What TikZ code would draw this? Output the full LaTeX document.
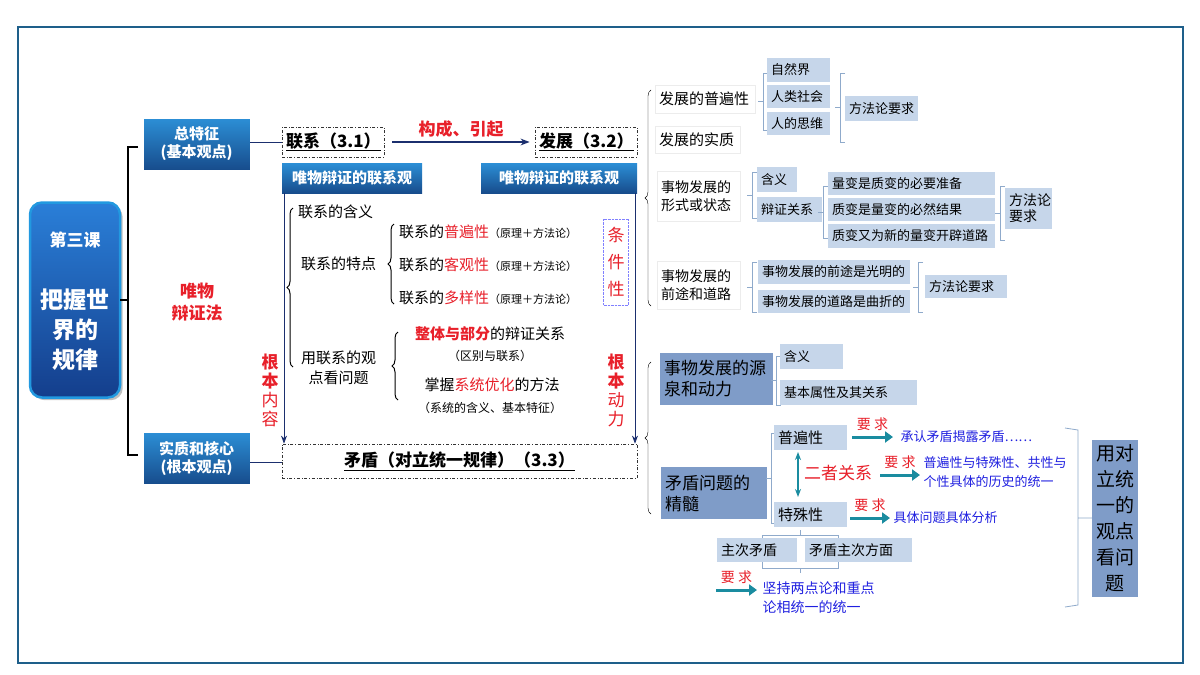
\documentclass[tikz,border=0pt]{standalone}
\usepackage{fontspec}
\setmainfont{Noto Sans CJK SC}
\usetikzlibrary{decorations.pathreplacing,arrows.meta,shadows}
\definecolor{navy}{HTML}{1B2F6E}
\definecolor{frame}{HTML}{1E5F8A}
\definecolor{lb}{HTML}{C6D6EA}
\definecolor{mb}{HTML}{7F9CC8}
\definecolor{brk}{HTML}{8FAACB}
\definecolor{teal}{HTML}{1A8CA0}
\definecolor{rd}{HTML}{E8202A}
\definecolor{bl}{HTML}{2020E0}
\definecolor{gtop}{HTML}{2C8FD6}
\definecolor{gbot}{HTML}{174C8C}
\definecolor{ktop}{HTML}{2A7FD8}
\definecolor{kbot}{HTML}{143E8C}
\tikzset{
 bluebox/.style={top color=gtop, bottom color=gbot, draw=white, text=white, font=\bfseries, align=center},
 hdr/.style={top color=gtop, bottom color=gbot, text=white, font=\bfseries\fontsize{15}{17}\selectfont, align=center},
 light/.style={fill=lb, font=\fontsize{13}{16}\selectfont},
 mid/.style={fill=mb, font=\fontsize{17}{21}\selectfont},
 wbox/.style={fill=white, draw=gray!15, font=\fontsize{15}{19}\selectfont},
 dbox/.style={draw=black!80, dash dot, thick},
 req/.style={text=rd, font=\fontsize{14}{16}\selectfont},
 tarrow/.style={draw=teal, line width=3pt, -{Triangle[length=8pt,width=11pt]}},
 brace/.style={decorate, decoration={brace, amplitude=6pt}, thick},
}
\newcommand\bx[7][]{\pgfmathsetmacro\bw{#5-#3}\pgfmathsetmacro\bh{#6-#4}\pgfmathsetmacro\tw{#5-#3-8}%
 \node[inner xsep=4pt, inner ysep=0pt, align=left, text width=\tw pt, minimum width=\bw pt, minimum height=\bh pt, #1] (#2) at ({(#3+#5)/2},{(#4+#6)/2}) {#7};}
\newcommand\brk[3]{\draw[brk, thick] ({#1+5},#2) -- (#1,#2) -- (#1,#3) -- ({#1+5},#3) (#1,{(#2+#3)/2}) -- ({#1-5},{(#2+#3)/2});}
\begin{document}
\begin{tikzpicture}[x=1pt,y=-1pt]
\useasboundingbox (0,0) rectangle (1200,675);
\fill[white] (0,0) rectangle (1200,675);
\draw[frame, line width=2pt] (18,27) rectangle (1183,663);
% left
\node[rounded corners=12pt, drop shadow, top color=ktop, bottom color=kbot, draw=ktop!80!cyan, line width=2.5pt, minimum width=90pt, minimum height=195pt] (ke) at (75,300) {};
\node[text=white, font=\bfseries\fontsize{17}{20}\selectfont] (ke1) at (75,240) {第三课};
\node[text=white, font=\bfseries\fontsize{23}{30}\selectfont, align=center] (ke2) at (75,330) {把握世\\界的\\规律};
\draw[line width=2.5pt] (138,147) -- (128,147) -- (128,455) -- (138,455) (128,300) -- (120,300);
\bx[bluebox, align=center, font=\bfseries\fontsize{15}{18}\selectfont]{zt}{143}{118}{250}{170}{总特征\\(基本观点)}
\bx[bluebox, align=center, font=\bfseries\fontsize{15}{18}\selectfont]{sz}{143}{432}{250}{484}{实质和核心\\(根本观点)}
\node[text=rd, font=\bfseries\fontsize{17}{22}\selectfont, align=center] (wb) at (197,302) {唯物\\辩证法};
% middle
\bx[dbox, font=\bfseries\fontsize{17}{20}\selectfont, inner xsep=1pt]{lx}{282}{127}{384}{157}{\underline{联系（3.1）}}
\bx[dbox, font=\bfseries\fontsize{17}{20}\selectfont, inner xsep=1pt]{fz}{535}{127}{637}{157}{\underline{发展（3.2）}}
\bx[dbox, align=center, font=\bfseries\fontsize{17}{20}\selectfont]{md}{282}{444}{637}{478}{\underline{矛盾（对立统一规律）（3.3）}}
\draw[navy, thick] (zt.east |- 0,142) -- (lx.west |- 0,142);
\draw[navy, thick] (sz.east |- 0,462) -- (md.west |- 0,462);
\draw[navy, line width=1.5pt, -{Stealth[length=9pt]}] ([xshift=8pt]lx.east) -- node[above=1pt, text=rd, font=\bfseries\fontsize{17}{20}\selectfont] (gc) {构成、引起} ([xshift=-5pt]fz.west);
\bx[hdr, align=center]{h1}{282}{163}{422}{193}{唯物辩证的联系观}
\bx[hdr, align=center]{h2}{481}{163}{637}{193}{唯物辩证的联系观}
\draw[navy, thick, -{Stealth[length=8pt]}] (h1.south west -| 284,0) -- (md.north west -| 284,0);
\draw[navy, thick, -{Stealth[length=8pt]}] (h2.south east -| 635,0) -- (md.north east -| 635,0);
\node[text=rd, font=\fontsize{17}{19}\selectfont, align=center] (gn) at (270,390) {\bfseries 根\\\bfseries 本\\内\\容};
\node[text=rd, font=\fontsize{17}{19}\selectfont, align=center] (gd) at (616,390) {\bfseries 根\\\bfseries 本\\动\\力};
\begin{scope}[font=\fontsize{15}{20}\selectfont]
\draw[brace, line width=1pt] (293,367) -- (293,208);
\node[anchor=west, inner sep=1pt] (t1) at (297,212) {联系的含义};
\node[anchor=west, inner sep=1pt] (t2) at (300,264) {联系的特点};
\node[anchor=west, align=center, inner sep=1pt] (t3) at (300,368) {用联系的观\\点看问题};
\draw[brace, line width=1pt] (394,304) -- (394,224);
\draw[brace, line width=1pt] (398,400) -- (398,332);
\node[anchor=west, inner sep=1pt] (p1) at (398,232) {联系的\textcolor{rd}{普遍性}{\fontsize{11}{12}\selectfont（原理＋方法论）}};
\node[anchor=west, inner sep=1pt] (p2) at (398,265) {联系的\textcolor{rd}{客观性}{\fontsize{11}{12}\selectfont（原理＋方法论）}};
\node[anchor=west, inner sep=1pt] (p3) at (398,298) {联系的\textcolor{rd}{多样性}{\fontsize{11}{12}\selectfont（原理＋方法论）}};
\node (q1) at (490,334) {\textcolor{rd}{\bfseries 整体与部分}的辩证关系};
\node[font=\fontsize{12}{14}\selectfont] (q2) at (490,356) {（区别与联系）};
\node (q3) at (492,385) {掌握\textcolor{rd}{系统优化}的方法};
\node[font=\fontsize{12}{14}\selectfont] (q4) at (490,408) {（系统的含义、基本特征）};
\end{scope}
\node[draw=blue!50, densely dotted, text=rd, align=center, inner sep=2pt, minimum width=25pt, minimum height=86pt, font=\fontsize{17}{27}\selectfont] (tj) at (616,262) {条\\件\\性};
% right top
\draw[brace, thin] (651,306) -- (651,90);
\bx[wbox]{r1}{655}{85}{755}{113}{发展的普遍性}
\bx[wbox]{r2}{655}{126}{740}{153}{发展的实质}
\bx[wbox, font=\fontsize{14}{18}\selectfont]{r3}{657}{171}{740}{221}{事物发展的\\形式或状态}
\bx[wbox, font=\fontsize{14}{18}\selectfont]{r4}{657}{261}{740}{309}{事物发展的\\前途和道路}
\brk{763}{73}{130}
\bx[light]{a1}{767}{58}{830}{82}{自然界}
\bx[light]{a2}{767}{85}{830}{108}{人类社会}
\bx[light]{a3}{767}{112}{830}{135}{人的思维}
\brk{840}{73}{142}
\bx[light]{a4}{845}{96}{918}{121}{方法论要求}
\brk{752}{172}{218}
\bx[light]{b1}{757}{167}{797}{192}{含义}
\bx[light]{b2}{757}{197}{822}{222}{辩证关系}
\brk{823}{186}{238}
\bx[light]{c1}{828}{172}{995}{195}{量变是质变的必要准备}
\bx[light]{c2}{828}{198}{995}{221}{质变是量变的必然结果}
\bx[light]{c3}{828}{224}{995}{248}{质变又为新的量变开辟道路}
\brk{1000}{186}{240}
\bx[light, font=\fontsize{14}{16}\selectfont]{c4}{1005}{188}{1052}{229}{方法论\\要求}
\brk{752}{262}{312}
\bx[light]{d1}{758}{260}{910}{284}{事物发展的前途是光明的}
\bx[light]{d2}{758}{290}{910}{313}{事物发展的道路是曲折的}
\brk{918}{262}{312}
\bx[light]{d3}{925}{275}{1007}{298}{方法论要求}
% right bottom
\draw[brace, thin] (651,514) -- (651,362);
\bx[mid]{e1}{660}{353}{773}{405}{事物发展的源\\泉和动力}
\brk{776}{356}{405}
\bx[light]{e2}{780}{344}{843}{369}{含义}
\bx[light]{e3}{780}{380}{917}{405}{基本属性及其关系}
\bx[mid]{f1}{661}{467}{767}{519}{矛盾问题的\\精髓}
\brk{771}{433}{523}
\bx[light, font=\fontsize{15}{18}\selectfont]{g1}{774}{425}{847}{450}{普遍性}
\bx[light, font=\fontsize{15}{18}\selectfont]{g2}{774}{502}{847}{527}{特殊性}
\draw[teal, line width=2pt, {Stealth[length=8pt]}-{Stealth[length=8pt]}] (798,452) -- (798,497);
\node[text=rd, font=\fontsize{17}{20}\selectfont] (ez) at (838,473) {二者关系};
\draw[tarrow] (852,437) -- node[req, above=2pt] (rq1) {要 求} (893,437);
\node[anchor=west, text=bl, font=\fontsize{13}{16}\selectfont] (s1) at (897,437) {承认矛盾揭露矛盾……};
\draw[tarrow] (880,475) -- node[req, above=2pt] (rq2) {要 求} (920,475);
\node[anchor=west, text=bl, font=\fontsize{13}{19}\selectfont, align=left] (s2) at (920,472) {普遍性与特殊性、共性与\\个性具体的历史的统一};
\draw[tarrow] (850,518) -- node[req, above=2pt] (rq3) {要 求} (890,518);
\node[anchor=west, text=bl, font=\fontsize{13}{16}\selectfont] (s3) at (890,518) {具体问题具体分析};
\draw[brk, thick] (762,541) -- (762,535) -- (838,535) -- (838,541) (800,535) -- (800,530);
\bx[light, font=\fontsize{14}{17}\selectfont]{h3}{717}{538}{797}{562}{主次矛盾}
\bx[light, font=\fontsize{14}{17}\selectfont]{h4}{805}{538}{912}{562}{矛盾主次方面}
\draw[brk, thick] (762,562) -- (762,568) -- (838,568) -- (838,562) (800,568) -- (800,573);
\draw[tarrow] (716,590) -- node[req, above=2pt] (rq4) {要 求} (757,590);
\node[anchor=west, text=bl, font=\fontsize{14}{19}\selectfont, align=left] (s4) at (759,598) {坚持两点论和重点\\论相统一的统一};
\draw[brk, thick] (1065,428) -- (1078,430) -- (1078,605) -- (1065,607) (1078,518) -- (1092,518);
\bx[mid, align=center, font=\fontsize{19}{26}\selectfont, inner xsep=0pt, text width=46pt]{yd}{1092}{440}{1138}{597}{用对\\立统\\一的\\观点\\看问\\题}
\end{tikzpicture}
\end{document}
